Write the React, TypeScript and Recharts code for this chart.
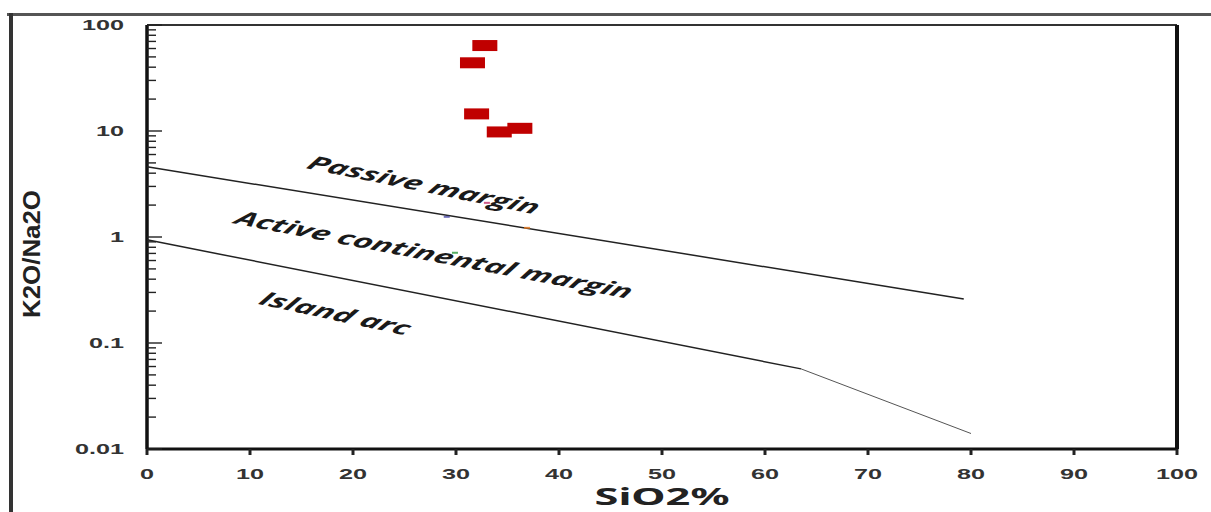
import { ScatterChart, Scatter, XAxis, YAxis, ReferenceLine, ReferenceDot } from "recharts";

// samples (SiO2 %, K2O/Na2O)
const samples = [
  { x: 32.8, y: 64 },
  { x: 31.6, y: 44 },
  { x: 32.0, y: 14.5 },
  { x: 34.2, y: 9.8 },
  { x: 36.2, y: 10.6 },
];

// faint coloured specks sitting on the boundaries
const specks = [
  { x: 29.1, y: 1.55, c: "#4a4aa8" },
  { x: 33.0, y: 2.1, c: "#c0306a" },
  { x: 36.9, y: 1.22, c: "#e87a20" },
  { x: 29.9, y: 0.71, c: "#2a9a3a" },
];

// field boundaries
const passiveLine = [
  { x: 0, y: 4.6 },
  { x: 79.3, y: 0.26 },
];
const activeLine = [
  { x: 0, y: 0.94 },
  { x: 63.5, y: 0.057 },
];
const activeTail = [
  { x: 63.5, y: 0.057 },
  { x: 80, y: 0.014 },
];

const fieldLabels = [
  { text: "Passive margin", x: 26.9, y: 3.1, angle: 20 },
  { text: "Active continental margin", x: 27.9, y: 0.68, angle: 19 },
  { text: "Island arc", x: 18.3, y: 0.19, angle: 21 },
];

const xTicks = [0, 10, 20, 30, 40, 50, 60, 70, 80, 90, 100];
const yMajor = [0.01, 0.1, 1, 10, 100];
const yTicks = [
  0.01, 0.02, 0.03, 0.04, 0.05, 0.06, 0.07, 0.08, 0.09,
  0.1, 0.2, 0.3, 0.4, 0.5, 0.6, 0.7, 0.8, 0.9,
  1, 2, 3, 4, 5, 6, 7, 8, 9,
  10, 20, 30, 40, 50, 60, 70, 80, 90, 100,
];

const tickFont = { fontFamily: "Liberation Sans, Arial, sans-serif", fontWeight: 700, fontSize: 14, fill: "#333" };
const STRETCH = 1.8;

function YTick(props: any) {
  const { x, y, payload } = props;
  const v = payload.value;
  const major = yMajor.includes(v);
  return (
    <g>
      <line x1={x} x2={x + (major ? 15 : 9)} y1={y} y2={y} stroke="#222" strokeWidth={1.4} />
      {major && (
        <text transform={`translate(${x - 23},${y}) scale(${STRETCH},1)`} textAnchor="end" dy="0.36em" {...tickFont}>
          {String(v)}
        </text>
      )}
    </g>
  );
}

function XTick(props: any) {
  const { x, y, payload } = props;
  return (
    <g>
      <line x1={x} x2={x} y1={y} y2={y + 6} stroke="#222" strokeWidth={3} />
      <text transform={`translate(${x},${y + 25}) scale(${STRETCH},1)`} textAnchor="middle" dy="0.36em" {...tickFont}>
        {payload.value}
      </text>
    </g>
  );
}

function RedBox(props: any) {
  const { cx, cy } = props;
  return <rect x={cx - 12.5} y={cy - 5.5} width={25} height={11} fill="#c00000" />;
}

function Speck(props: any) {
  const { cx, cy, payload } = props;
  return <rect x={cx - 3} y={cy - 1} width={6} height={2} fill={payload.c} opacity={0.8} />;
}

const noShape = () => <g />;

function fieldLabel(text: string, angle: number) {
  return (props: any) => {
    const vb = props.viewBox || {};
    const cx = vb.x + (vb.width || 0) / 2;
    const cy = vb.y + (vb.height || 0) / 2;
    return (
      <text
        transform={`translate(${cx},${cy}) scale(${STRETCH},1) rotate(${angle})`}
        textAnchor="middle"
        dy="0.35em"
        fontFamily="Open Sans, Noto Sans, sans-serif"
        fontWeight={700}
        fontStyle="italic"
        fontSize={19}
        fill="#1a1a1a"
      >
        {text}
      </text>
    );
  };
}

export default function App() {
  return (
    <div style={{ position: "absolute", left: 0, top: 0, width: 1211, height: 512, background: "#fff" }}>
      <div style={{ position: "absolute", left: 7, top: 13, width: 1204, height: 3, background: "#555" }} />
      <div style={{ position: "absolute", left: 9, top: 13, width: 4, height: 499, background: "#333" }} />
      <div style={{ position: "absolute", left: 0, top: 0 }}>
        <ScatterChart width={1211} height={512} margin={{ top: 25, right: 34, bottom: 0, left: 0 }}>
          <XAxis
            type="number"
            dataKey="x"
            domain={[0, 100]}
            ticks={xTicks}
            interval={0}
            height={63}
            tickSize={0}
            tickMargin={0}
            tickLine={false}
            axisLine={{ stroke: "#111", strokeWidth: 3 }}
            tick={(p: any) => <XTick {...p} />}
            label={(p: any) => {
              const vb = p.viewBox;
              return (
                <text
                  x={vb.x + vb.width / 2}
                  y={vb.y + 48}
                  textAnchor="middle"
                  dy="0.35em"
                  textLength={135}
                  lengthAdjust="spacingAndGlyphs"
                  fontFamily="Noto Sans, sans-serif"
                  fontWeight={700}
                  fontSize={24}
                  fill="#222"
                >
                  SiO2%
                </text>
              );
            }}
          />
          <YAxis
            type="number"
            dataKey="y"
            scale="log"
            domain={[0.01, 100]}
            allowDataOverflow
            ticks={yTicks}
            interval={0}
            width={147}
            tickSize={0}
            tickMargin={0}
            tickLine={false}
            axisLine={{ stroke: "#111", strokeWidth: 3.5 }}
            tick={(p: any) => <YTick {...p} />}
            label={(p: any) => {
              const vb = p.viewBox;
              const cy = vb.y + vb.height / 2 + 17;
              return (
                <text
                  transform={`translate(32,${cy}) rotate(-90)`}
                  textAnchor="middle"
                  dy="0.35em"
                  textLength={128}
                  lengthAdjust="spacingAndGlyphs"
                  fontFamily="Liberation Sans, Arial, sans-serif"
                  fontWeight={700}
                  fontSize={24}
                  fill="#222"
                >
                  K2O/Na2O
                </text>
              );
            }}
          />
          <ReferenceLine y={100} stroke="#333" strokeWidth={2} />
          <ReferenceLine x={100} stroke="#111" strokeWidth={4} />
          <Scatter data={passiveLine} line={{ stroke: "#222", strokeWidth: 1.5 }} shape={noShape} isAnimationActive={false} />
          <Scatter data={activeLine} line={{ stroke: "#222", strokeWidth: 1.5 }} shape={noShape} isAnimationActive={false} />
          <Scatter data={activeTail} line={{ stroke: "#555", strokeWidth: 1 }} shape={noShape} isAnimationActive={false} />
          <Scatter data={specks} shape={Speck} isAnimationActive={false} />
          <Scatter data={samples} shape={RedBox} isAnimationActive={false} />
          {fieldLabels.map((f) => (
            <ReferenceDot key={f.text} x={f.x} y={f.y} r={0} stroke="none" fill="none" label={fieldLabel(f.text, f.angle)} />
          ))}
        </ScatterChart>
      </div>
    </div>
  );
}
